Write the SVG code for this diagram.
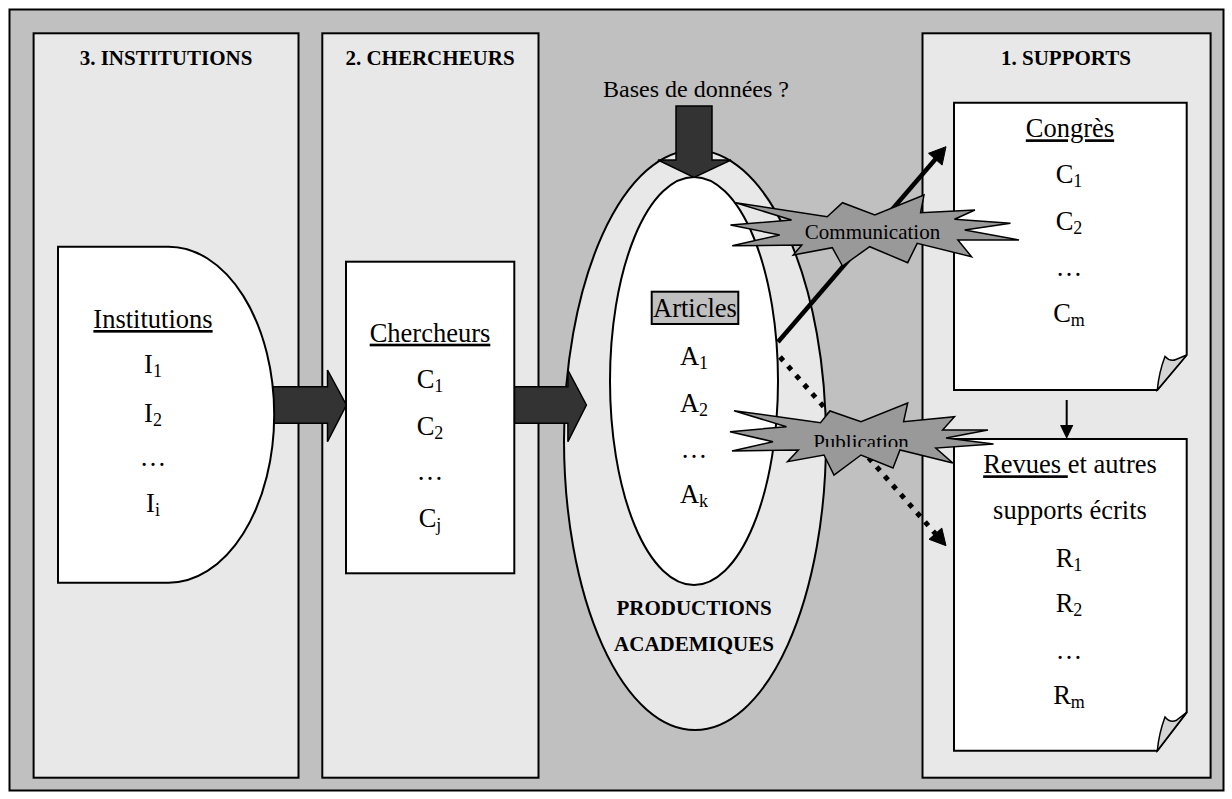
<svg xmlns="http://www.w3.org/2000/svg" width="1232" height="799" viewBox="0 0 1232 799">
<style>
.bg{fill:#c0c0c0;stroke:#000;stroke-width:2}
.col{fill:#e8e8e8;stroke:#000;stroke-width:2}
.box{fill:#fff;stroke:#000;stroke-width:2}
.t{font-family:'Liberation Serif','Times New Roman',serif;font-size:26.5px;fill:#000;text-anchor:middle}
.h{font-weight:bold;font-size:21px}
.s{font-size:18px}
.u{text-decoration:underline}
.blk{fill:#333;stroke:#000;stroke-width:1.5}
.star{fill:#999;stroke:#000;stroke-width:1.5;stroke-linejoin:miter}
.fold{fill:#d4d4d4;stroke:#000;stroke-width:1.5}
.lbl{font-size:21px}
</style>
<defs>
<clipPath id="pubclip"><rect x="790" y="420" width="140" height="27"/></clipPath>
</defs>
<rect class="bg" x="9.5" y="9.5" width="1214" height="781"/>

<g id="col-institutions">
<rect class="col" x="33.6" y="33.3" width="264.9" height="744.4"/>
<text class="t h" x="166" y="65">3. INSTITUTIONS</text>
</g>
<g id="col-chercheurs">
<rect class="col" x="322.3" y="33.3" width="216.2" height="744.4"/>
<text class="t h" x="430" y="65">2. CHERCHEURS</text>
</g>
<g id="col-supports">
<rect class="col" x="922.5" y="33.3" width="288.1" height="744.4"/>
<text class="t h" x="1066" y="65">1. SUPPORTS</text>
</g>

<g id="productions">
<ellipse cx="695" cy="440" rx="131" ry="290" fill="#e8e8e8" stroke="#000" stroke-width="2"/>
<ellipse cx="694" cy="381" rx="84" ry="204" fill="#fff" stroke="#000" stroke-width="2"/>
<rect x="651.7" y="291.7" width="86.6" height="32.3" fill="#c0c0c0" stroke="#000" stroke-width="2"/>
<text class="t" x="695" y="316.7">Articles</text>
<text class="t" x="694" y="365">A<tspan class="s" dy="4">1</tspan></text>
<text class="t" x="694" y="411.7">A<tspan class="s" dy="4">2</tspan></text>
<text class="t" x="694" y="457.5">…</text>
<text class="t" x="694" y="503.3">A<tspan class="s" dy="4">k</tspan></text>
<text class="t h" x="694" y="615">PRODUCTIONS</text>
<text class="t h" x="694" y="651">ACADEMIQUES</text>
</g>

<g id="bases">
<text class="t" style="font-size:24px" x="696" y="97">Bases de données ?</text>
</g>

<g id="connectors">
<polygon class="blk" points="265,386.7 327.5,386.7 327.5,370 346.4,405 327.5,441.7 327.5,423.3 265,423.3"/>
<polygon class="blk" points="514,386.7 567.9,386.7 567.9,370 586.4,405 567.9,441.7 567.9,423.3 514,423.3"/>
<polygon class="blk" points="676,106 712,106 712,160 731,160 694,177.5 658,160 676,160"/>
<line x1="778" y1="342" x2="936" y2="158.5" stroke="#000" stroke-width="4.5"/>
<polygon points="946,146.7 942.1,165.1 928.5,153.3" fill="#000" stroke="#000" stroke-width="1"/>
<line x1="780" y1="357" x2="935.4" y2="533.7" stroke="#000" stroke-width="5" stroke-dasharray="5 7.2"/>
<polygon points="946,545.7 929,539.3 941.8,528.1" fill="#000" stroke="#000" stroke-width="1"/>
<line x1="1066.7" y1="400" x2="1066.7" y2="426" stroke="#000" stroke-width="2"/>
<polygon points="1060,425 1073.4,425 1066.7,439" fill="#000"/>
</g>

<g id="institutions">
<path class="box" d="M58,246.7 H168.6 A105.6,168 0 0 1 168.6,582.7 H58 Z"/>
<text class="t u" x="153" y="328">Institutions</text>
<text class="t" x="153" y="373.3">I<tspan class="s" dy="4">1</tspan></text>
<text class="t" x="153" y="421.7">I<tspan class="s" dy="4">2</tspan></text>
<text class="t" x="153" y="466">…</text>
<text class="t" x="153" y="511.7">I<tspan class="s" dy="4">i</tspan></text>
</g>

<g id="chercheurs">
<rect class="box" x="346" y="261.7" width="168.3" height="311.6"/>
<text class="t u" x="430" y="341.7">Chercheurs</text>
<text class="t" x="430" y="388.3">C<tspan class="s" dy="4">1</tspan></text>
<text class="t" x="430" y="435">C<tspan class="s" dy="4">2</tspan></text>
<text class="t" x="430" y="480">…</text>
<text class="t" x="430" y="526.7">C<tspan class="s" dy="4">j</tspan></text>
</g>

<g id="congres">
<path class="box" d="M954,102.7 H1186.7 V355 L1157.3,390 H954 Z"/>
<path class="fold" d="M1157.3,390 Q1159,372 1165,356.5 Q1170,362 1176,359.5 L1186.7,355 Z"/>
<text class="t u" x="1070" y="137.3">Congrès</text>
<text class="t" x="1069" y="183.3">C<tspan class="s" dy="4">1</tspan></text>
<text class="t" x="1069" y="230">C<tspan class="s" dy="4">2</tspan></text>
<text class="t" x="1069" y="276">…</text>
<text class="t" x="1069" y="321.7">C<tspan class="s" dy="4">m</tspan></text>
</g>

<g id="revues">
<path class="box" d="M954,439 H1186.7 V712.3 L1157.3,750.7 H954 Z"/>
<path class="fold" d="M1157.3,750.7 Q1159,733 1165,717 Q1170,723 1176,720.5 L1186.7,712.3 Z"/>
<text class="t" x="1070" y="473.3"><tspan class="u">Revues </tspan>et autres</text>
<text class="t" x="1070" y="519.3">supports écrits</text>
<text class="t" x="1069" y="566.7">R<tspan class="s" dy="4">1</tspan></text>
<text class="t" x="1069" y="612.3">R<tspan class="s" dy="4">2</tspan></text>
<text class="t" x="1069" y="659">…</text>
<text class="t" x="1069" y="704">R<tspan class="s" dy="4">m</tspan></text>
</g>

<g id="communication">
<polygon class="star" points="735.6,202.7 791.6,220 730.5,225 779.7,235 732.2,245.7 801.8,245 793.3,255 832.3,247.7 842.5,266 869.7,246.7 907.7,262.7 917.2,243.3 971.5,256.7 957.9,240 1019,240 964.7,230 1010.5,223.3 954.5,219.3 974.9,210 920.6,212.7 924,195 874.8,215 842.5,202.7 827.2,216.7"/>
<text class="t lbl" x="872.5" y="239.3">Communication</text>
</g>

<g id="publication">
<polygon class="star" points="734,410.7 786.5,426.7 730,431.7 773,441.7 732,451 798.4,450 787.5,461.7 824,455 834,475 861,455 893,468 900,450 952.8,463 935.8,448 993.5,444 946,438 988,430 942.6,430 954.5,416.7 903.6,421.7 907.7,403 861,421.7 830,411 820.5,422.7"/>
<text class="t lbl" x="861" y="448.5" clip-path="url(#pubclip)">Publication</text>
</g>
</svg>
